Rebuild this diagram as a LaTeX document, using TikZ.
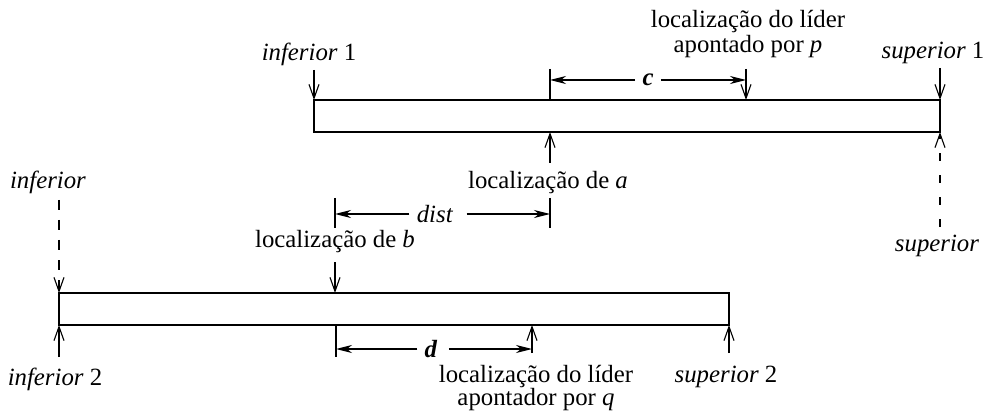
\documentclass[tikz,border=0pt]{standalone}
\usepackage{fontspec}
\setmainfont{Liberation Serif}
\usetikzlibrary{arrows.meta}
\begin{document}
\begin{tikzpicture}[x=0.5pt,y=-0.5pt,
  every node/.style={font=\fontsize{12.4}{14}\selectfont, inner sep=0pt},
  lbl/.style={anchor=base},
  bar/.style={line width=1.4pt},
  ptr/.style={line width=0.55pt,-{Straight Barb[length=7pt,width=5pt]}},
  guideL/.style={ptr, dash pattern=on 5pt off 5pt},
  guideR/.style={ptr, dash pattern=on 4pt off 7pt},
  dimln/.style={line width=0.65pt,-{Stealth[length=8pt,width=4pt,inset=2.5pt]}},
  tickln/.style={line width=0.55pt},
  dimlbl/.style={inner xsep=3.5pt}]
\useasboundingbox (0,0) rectangle (984,411);
% bars
\coordinate (r1a) at (314,100); \coordinate (r1b) at (940,132);
\coordinate (r2a) at (59,293);  \coordinate (r2b) at (729,325);
\draw[bar] (r1a) rectangle (r1b);
\draw[bar] (r2a) rectangle (r2b);
% labels
\node[lbl] (inf1) at (309,61) {\textit{inferior} 1};
\node[lbl] (sup1) at (933,59) {\textit{superior} 1};
\node[lbl] (lp1) at (748,28) {localização do líder};
\node[lbl] (lp2) at (748,53) {apontado por \textit{p}};
\node[dimlbl] (cl) at (648,80) {\textbf{\textit{c}}};
\node[lbl] (la) at (548,189) {localização de \textit{a}};
\node[lbl] (inf) at (48,189) {\textit{inferior}};
\node[lbl] (sup) at (937,251) {\textit{superior}};
\node[dimlbl] (dl) at (435,214) {\textit{dist}};
\node[lbl] (lb) at (335,248) {localização de \textit{b}};
\node[dimlbl] (dd) at (431,349) {\textbf{\textit{d}}};
\node[lbl] (lq1) at (536,382) {localização do líder};
\node[lbl] (lq2) at (536,405) {apontador por \textit{q}};
\node[lbl] (inf2) at (55,385) {\textit{inferior} 2};
\node[lbl] (sup2) at (726,382) {\textit{superior} 2};
% points on the bars
\coordinate (pTop) at (746,100);
\coordinate (aTop) at (550,100);
\coordinate (aBot) at (550,132);
\coordinate (bTop) at (335,293);
\coordinate (dBot) at (336,325);
\coordinate (qBot) at (532,325);
% free ends
\coordinate (inf1s) at (314,70);
\coordinate (sup1s) at (940,68);
\coordinate (ps) at (746,69);
\coordinate (cs) at (550,69);
\coordinate (as) at (550,163);
\coordinate (sups) at (940,227);
\coordinate (infs) at (59,200);
\coordinate (dt1a) at (335,198); \coordinate (dt1b) at (335,228);
\coordinate (dt2a) at (550,198); \coordinate (dt2b) at (550,228);
\coordinate (bs) at (335,262);
\coordinate (dtb) at (336,357);
\coordinate (qs) at (532,353);
\coordinate (i2s) at (59,357);
\coordinate (s2s) at (729,353);
% top bar pointers
\draw[ptr] (inf1s) -- (r1a);
\draw[ptr] (sup1s) -- (r1b |- r1a);
\draw[ptr] (ps) -- (pTop);
\draw[tickln] (cs) -- (aTop);
\draw[dimln] (cl) -- (cs |- cl);
\draw[dimln] (cl) -- (ps |- cl);
\draw[ptr] (as) -- (aBot);
\draw[guideR] (sups) -- (r1b);
% dist
\draw[tickln] (dt1a) -- (dt1b);
\draw[tickln] (dt2a) -- (dt2b);
\draw[dimln] (dl) -- (dt1a |- dl);
\draw[dimln] ([xshift=3pt]dl.east) -- (dt2a |- dl);
% bottom bar pointers
\draw[guideL] (infs) -- (r2a);
\draw[ptr] (bs) -- (bTop);
\draw[tickln] (dBot) -- (dtb);
\draw[ptr] (qs) -- (qBot);
\draw[dimln] (dd) -- (dBot |- dd);
\draw[dimln] ([xshift=2pt]dd.east) -- (qs |- dd);
\draw[ptr] (i2s) -- (r2a |- r2b);
\draw[ptr] (s2s) -- (r2b);
\end{tikzpicture}
\end{document}
